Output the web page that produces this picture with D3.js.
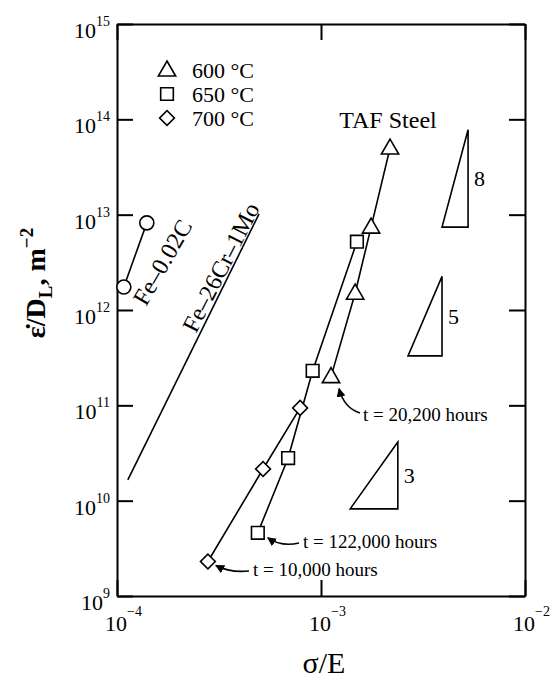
<!DOCTYPE html>
<html lang="en">
<head>
<meta charset="UTF-8">
<script src="https://cdn.jsdelivr.net/npm/d3@7"></script>
<title>TAF steel creep</title>
<style>
  body { margin: 0; background: #fff; }
  svg text { font-family: "Liberation Serif", "Times New Roman", serif; fill: #000; }
  .axis path, .axis line { stroke: #000; stroke-width: 2; }
</style>
</head>
<body>
<div id="chart"></div>
<script>
// x = sigma/E, y = strain rate / D_L (m^-2)
const xTicks = [1e-4, 1e-3, 1e-2];
const xTickExp = ["-4", "-3", "-2"];
const yTicks = [1e9, 1e10, 1e11, 1e12, 1e13, 1e14, 1e15];
const yTickExp = ["9", "10", "11", "12", "13", "14", "15"];

// TAF steel
const t600x = [1.12e-3, 1.47e-3, 1.76e-3, 2.18e-3];
const t600y = [2.0e11, 1.5e12, 7.4e12, 5.0e13];
const t650x = [4.9e-4, 6.9e-4, 9.1e-4, 1.50e-3];
const t650y = [4.6e9, 2.8e10, 2.3e11, 5.2e12];
const t700x = [2.79e-4, 5.2e-4, 7.9e-4];
const t700y = [2.3e9, 2.15e10, 9.4e10];

// other alloys
const feCx = [1.08e-4, 1.40e-4];
const feCy = [1.74e12, 8.2e12];
const feCrX = [1.13e-4, 4.97e-4];
const feCrY = [1.65e10, 1.02e13];

// slope triangles: left x, right x, bottom y, slope
const slopeX0 = [3.92e-3, 2.67e-3, 1.39e-3];
const slopeX1 = [5.26e-3, 3.92e-3, 2.38e-3];
const slopeY0 = [7.4e12, 3.3e11, 8.2e9];
const slopes = [8, 5, 3];

const legendLabels = ["600 °C", "650 °C", "700 °C"];

const width = 550, height = 681;
const margin = {top: 24, right: 25, bottom: 85, left: 117};

const svg = d3.select("#chart").append("svg")
  .attr("width", width).attr("height", height)
  .attr("font-family", "Liberation Serif, Times New Roman, serif");

const x = d3.scaleLog().domain([1e-4, 1e-2]).range([margin.left, width - margin.right]);
const y = d3.scaleLog().domain([1e9, 1e15]).range([height - margin.bottom, margin.top]);

// axes, ticks inward
const tk = 16;
svg.append("g").attr("class", "axis")
  .attr("transform", `translate(${x.range()[0]},0)`)
  .call(d3.axisLeft(y).tickValues(yTicks).tickSize(-tk).tickSizeOuter(0).tickFormat(""));
svg.append("g").attr("class", "axis")
  .attr("transform", `translate(${x.range()[1]},0)`)
  .call(d3.axisRight(y).tickValues(yTicks).tickSize(-tk).tickSizeOuter(0).tickFormat(""));
svg.append("g").attr("class", "axis")
  .attr("transform", `translate(0,${y.range()[0]})`)
  .call(d3.axisBottom(x).tickValues(xTicks).tickSize(-tk).tickSizeOuter(0).tickFormat(""));
svg.append("g").attr("class", "axis")
  .attr("transform", `translate(0,${y.range()[1]})`)
  .call(d3.axisTop(x).tickValues(xTicks).tickSize(-tk).tickSizeOuter(0).tickFormat(""));

// tick labels
const yl = svg.append("g").selectAll("text").data(yTicks).enter().append("text")
  .attr("x", x.range()[0] - 7).attr("y", d => y(d) + 14)
  .attr("text-anchor", "end").style("font-size", "22px");
yl.append("tspan").text("10");
yl.append("tspan").attr("dy", -12).style("font-size", "14px").text((d, i) => yTickExp[i]);

const xl = svg.append("g").selectAll("text").data(xTicks).enter().append("text")
  .attr("x", d => x(d) - 12).attr("y", y.range()[0] + 35)
  .style("font-size", "22px");
xl.append("tspan").text("10");
xl.append("tspan").attr("dy", -15).style("font-size", "14px").text((d, i) => "\u2212" + xTickExp[i].slice(1));

// axis titles
svg.append("text").attr("x", 324).attr("y", 673)
  .attr("text-anchor", "middle").style("font-size", "30px").text("σ/E");

const yt = svg.append("text")
  .attr("transform", "translate(45,283) rotate(-90)")
  .attr("text-anchor", "middle").style("font-size", "28px").style("font-weight", "bold");
yt.append("tspan").text("ε\u0307/D");
yt.append("tspan").attr("dy", 7).style("font-size", "19px").text("L");
yt.append("tspan").attr("dy", -7).text(", m");
yt.append("tspan").attr("dy", -12).style("font-size", "19px").text("\u22122");

// lines
const line = d3.line().x(d => x(d[0])).y(d => y(d[1]));
function series(xs, ys) { return xs.map((v, i) => [v, ys[i]]); }
const lineG = svg.append("g").attr("fill", "none").attr("stroke", "#000").attr("stroke-width", 1.6);
[[t600x, t600y], [t650x, t650y], [t700x, t700y], [feCx, feCy], [feCrX, feCrY]].forEach(s => {
  lineG.append("path").attr("d", line(series(s[0], s[1])));
});

// markers
const mk = svg.append("g").attr("fill", "#fff").attr("stroke", "#000").attr("stroke-width", 1.6);
const tri = d3.symbol().type(d3.symbolTriangle).size(130);
const sq = d3.symbol().type(d3.symbolSquare).size(160);
const dia = d3.symbol().type(d3.symbolSquare).size(110);
mk.selectAll(".t600").data(series(t600x, t600y)).enter().append("path")
  .attr("d", tri).attr("transform", d => `translate(${x(d[0])},${y(d[1]) + 1})`);
mk.selectAll(".t650").data(series(t650x, t650y)).enter().append("path")
  .attr("d", sq).attr("transform", d => `translate(${x(d[0])},${y(d[1])})`);
mk.selectAll(".t700").data(series(t700x, t700y)).enter().append("path")
  .attr("d", dia).attr("transform", d => `translate(${x(d[0])},${y(d[1])}) rotate(45)`);
mk.selectAll(".fec").data(series(feCx, feCy)).enter().append("circle")
  .attr("cx", d => x(d[0])).attr("cy", d => y(d[1])).attr("r", 7);

// legend
const legG = svg.append("g");
const legSym = [tri, sq, dia];
legendLabels.forEach((lab, i) => {
  const ly = 70 + i * 24;
  legG.append("path").attr("d", legSym[i])
    .attr("transform", `translate(167,${ly + (i === 0 ? 1 : 0)})` + (i === 2 ? " rotate(45)" : ""))
    .attr("fill", "#fff").attr("stroke", "#000").attr("stroke-width", 1.6);
  legG.append("text").attr("x", 192).attr("y", ly + 8).style("font-size", "22px").text(lab);
});

// slope triangles
const slG = svg.append("g");
slopes.forEach((s, i) => {
  const yTop = slopeY0[i] * Math.pow(slopeX1[i] / slopeX0[i], s);
  const pts = [[slopeX0[i], slopeY0[i]], [slopeX1[i], slopeY0[i]], [slopeX1[i], yTop]];
  slG.append("path").attr("d", line(pts) + "Z")
    .attr("fill", "none").attr("stroke", "#000").attr("stroke-width", 1.6);
  slG.append("text").attr("x", x(slopeX1[i]) + 6)
    .attr("y", (y(slopeY0[i]) + y(yTop)) / 2 + 8)
    .style("font-size", "22px").text(s);
});

// labels
svg.append("text").attr("x", 388).attr("y", 128).attr("text-anchor", "middle")
  .style("font-size", "24px").text("TAF Steel");
svg.append("text").attr("transform", "translate(146,307) rotate(-60)")
  .style("font-size", "24px").text("Fe\u20130.02C");
svg.append("text").attr("transform", "translate(196,334) rotate(-63)")
  .style("font-size", "24px").text("Fe\u201326Cr\u20131Mo");

// time annotations with curved arrows
svg.append("defs").append("marker").attr("id", "ah")
  .attr("viewBox", "0 0 10 10").attr("refX", 9).attr("refY", 5)
  .attr("markerWidth", 9).attr("markerHeight", 9).attr("markerUnits", "userSpaceOnUse")
  .attr("orient", "auto")
  .append("path").attr("d", "M0,0L10,5L0,10Z").attr("fill", "#000");

const notes = [
  {px: t600x[0], py: t600y[0], txt: "t = 20,200 hours", tx: 363, ty: 421, from: [360, 413], c: [344, 408], off: [8, 12]},
  {px: t650x[0], py: t650y[0], txt: "t = 122,000 hours", tx: 303, ty: 548, from: [299, 543], c: [281, 547], off: [10, 5]},
  {px: t700x[0], py: t700y[0], txt: "t = 10,000 hours", tx: 253, ty: 576, from: [249, 571], c: [230, 573], off: [8, 4]}
];
notes.forEach(n => {
  const hx = x(n.px) + n.off[0], hy = y(n.py) + n.off[1];
  svg.append("path").attr("d", `M${n.from[0]},${n.from[1]}Q${n.c[0]},${n.c[1]} ${hx},${hy}`)
    .attr("fill", "none").attr("stroke", "#000").attr("stroke-width", 1.6)
    .attr("marker-end", "url(#ah)");
  svg.append("text").attr("x", n.tx).attr("y", n.ty).style("font-size", "19px").text(n.txt);
});
</script>
</body>
</html>
